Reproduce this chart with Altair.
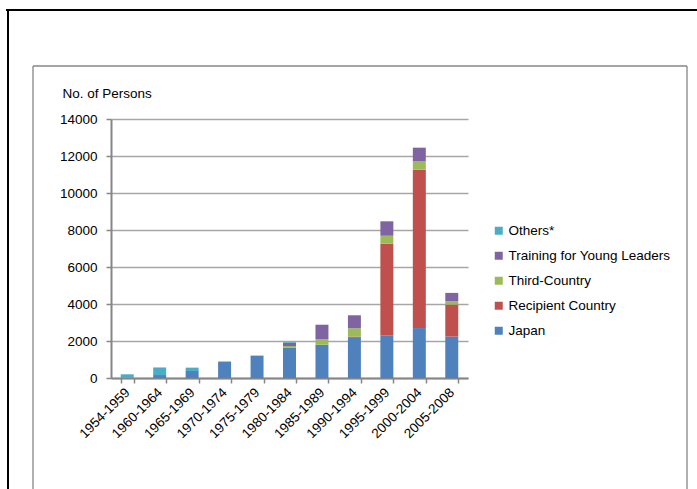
import altair as alt
import pandas as pd

periods = ["1954-1959", "1960-1964", "1965-1969", "1970-1974", "1975-1979",
           "1980-1984", "1985-1989", "1990-1994", "1995-1999", "2000-2004", "2005-2008"]
japan = [30, 160, 380, 890, 1210, 1630, 1800, 2170, 2300, 2700, 2240]
recipient = [0, 0, 0, 0, 0, 0, 0, 70, 4960, 8560, 1730]
third = [0, 0, 0, 0, 0, 100, 300, 450, 430, 470, 180]
young = [0, 0, 0, 0, 0, 180, 780, 700, 780, 720, 450]
others = [170, 410, 180, 0, 0, 40, 0, 0, 0, 0, 0]

series_names = ["Japan", "Recipient Country", "Third-Country",
                "Training for Young Leaders", "Others*"]
series_values = [japan, recipient, third, young, others]
series_colors = ["#4F81BD", "#C0504D", "#9BBB59", "#8064A2", "#4BACC6"]

rows = []
for si, (name, vals) in enumerate(zip(series_names, series_values)):
    for p, v in zip(periods, vals):
        rows.append({"period": p, "series": name, "value": v, "stack": si})
df = pd.DataFrame(rows)

legend_order = series_names[::-1]
legend_colors = series_colors[::-1]

FONT = "Liberation Sans"
FS = 13.5

bars = alt.Chart(df).mark_bar().encode(
    x=alt.X("period:N", sort=periods, title=None,
            scale=alt.Scale(paddingInner=0.6, paddingOuter=0.3),
            axis=alt.Axis(labelAngle=-45, labelAlign="right", labelBaseline="middle",
                          tickBand="extent", tickSize=5, tickColor="#868686", tickWidth=1.5,
                          domainColor="#868686", domainWidth=2, labelPadding=7,
                          labelFontSize=FS, labelColor="#000000", grid=False)),
    y=alt.Y("value:Q", stack="zero",
            scale=alt.Scale(domain=[0, 14000], nice=False),
            axis=alt.Axis(values=list(range(0, 14001, 2000)), format="d",
                          title="No. of Persons",
                          titleAngle=0, titleAlign="left", titleBaseline="alphabetic",
                          titleX=-49, titleY=-22, titleFontWeight="normal",
                          titleFontSize=FS, titleColor="#000000",
                          tickSize=5, tickColor="#868686", tickWidth=1.5,
                          domainColor="#868686", domainWidth=2, labelPadding=9,
                          labelFontSize=FS, labelColor="#000000",
                          grid=True, gridColor="#A6A6A6", gridWidth=1.5)),
    color=alt.Color("series:N",
                    scale=alt.Scale(domain=legend_order, range=legend_colors),
                    legend=alt.Legend(title=None, orient="none", legendX=381, legendY=105,
                                      symbolType="square", symbolSize=64,
                                      symbolStrokeWidth=0, labelFontSize=FS,
                                      labelColor="#000000", labelOffset=3,
                                      labelLimit=400, rowPadding=10, padding=0)),
    order=alt.Order("stack:Q", sort="ascending"),
)

one = alt.Data(values=[{}])
black_top = alt.Chart(one).mark_rule(color="#000000", strokeWidth=2).encode(
    x=alt.value(-105), x2=alt.value(600), y=alt.value(-109))
black_left = alt.Chart(one).mark_rule(color="#000000", strokeWidth=2).encode(
    x=alt.value(-103), y=alt.value(-110), y2=alt.value(400))
gray_top = alt.Chart(one).mark_rule(color="#868686", strokeWidth=1.3).encode(
    x=alt.value(-78), x2=alt.value(576), y=alt.value(-53))
gray_left = alt.Chart(one).mark_rule(color="#868686", strokeWidth=1.3).encode(
    x=alt.value(-78), y=alt.value(-53), y2=alt.value(400))
gray_right = alt.Chart(one).mark_rule(color="#868686", strokeWidth=1.3).encode(
    x=alt.value(576), y=alt.value(-53), y2=alt.value(400))

chart = alt.layer(black_top, black_left, gray_top, gray_left, gray_right, bars).properties(
    width=357, height=259,
    autosize=alt.AutoSizeParams(type="none"),
    padding={"left": 111, "top": 119, "right": 229, "bottom": 111},
).configure(font=FONT).configure_view(stroke=None)

chart.save("out.html", embed_options={"renderer": "svg", "actions": False})
